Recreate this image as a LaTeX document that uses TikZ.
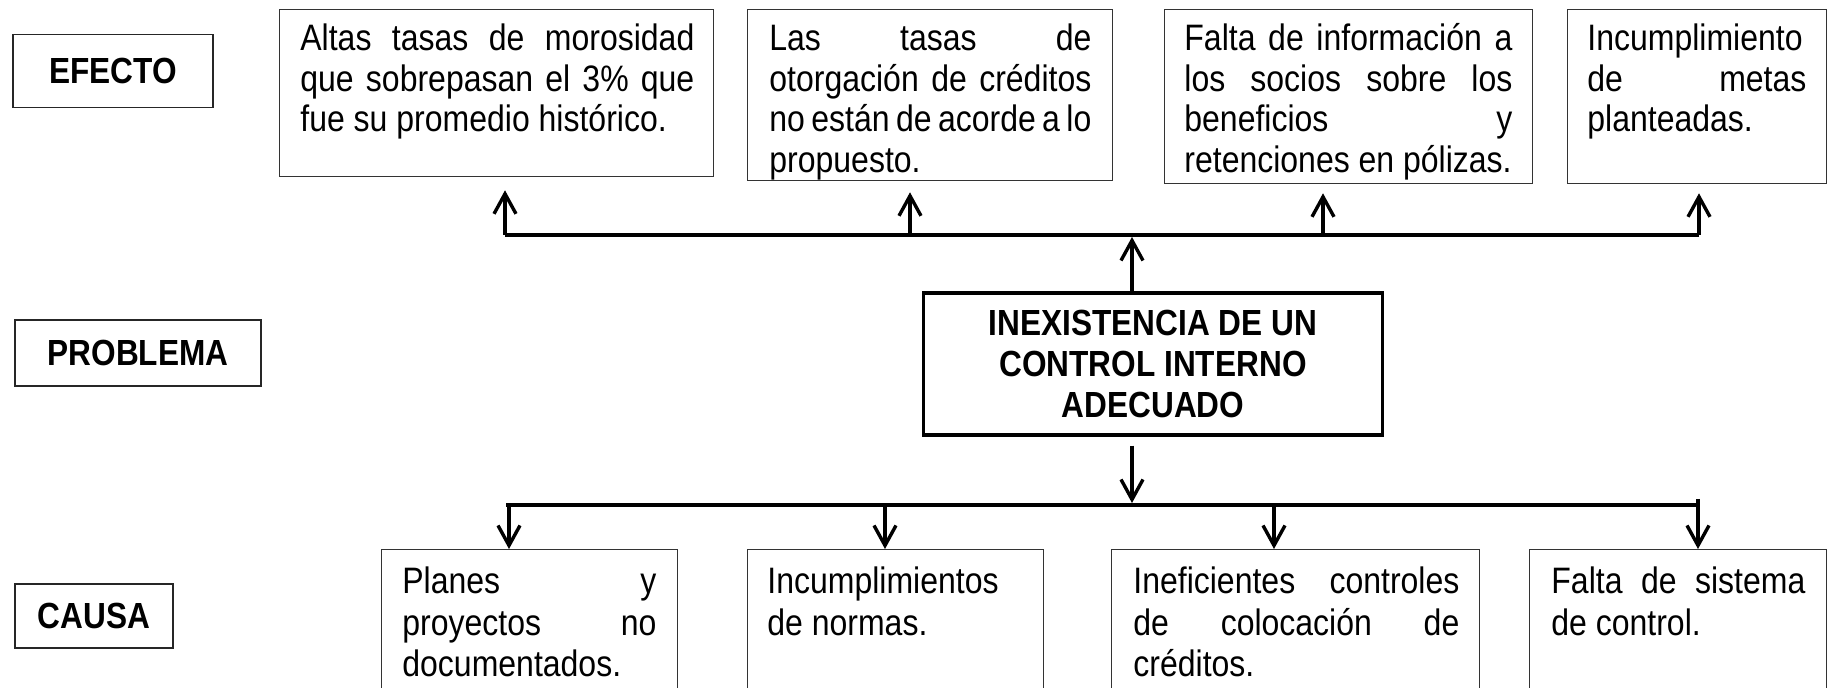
\documentclass[tikz,border=0pt]{standalone}
\usepackage{fontspec}
\setmainfont{Liberation Sans}
\usetikzlibrary{arrows.meta}
\newcommand\jline[1]{\makebox[\linewidth][s]{#1}\\}
\newcommand\vstr[1]{\scalebox{1}[1.15]{#1}}
\tikzset{
  box/.style={draw=black!80, line width=0.65pt, anchor=north west, inner sep=0pt},
  body/.style={anchor=base west, inner sep=0pt, font=\fontsize{16}{17.6}\selectfont},
  cbody/.style={anchor=base west, inner sep=0pt, font=\fontsize{16}{18}\selectfont},
  lab/.style={draw=black!85, line width=0.8pt, inner sep=0pt, font=\bfseries\fontsize{15.8}{16}\selectfont},
  bus/.style={line width=2.2pt},
  arr/.style={line width=1.7pt, -{Straight Barb[length=10pt,width=11pt,line width=1.7pt]}},
}
\begin{document}
\begin{tikzpicture}[x=0.5pt,y=-0.5pt]
\useasboundingbox (0,0) rectangle (1833,688);
\clip (0,0) rectangle (1833,688);

% row labels
\node[lab, minimum width=100pt, minimum height=36.5pt] (lefecto) at (113,71) {\vstr{EFECTO}};
\node[lab, line width=1.4pt, minimum width=123pt, minimum height=33pt] (lproblema) at (138,353) {\vstr{PROBLEMA}};
\node[lab, minimum width=79pt, minimum height=32pt] (lcausa) at (94,616) {\vstr{CAUSA}};

% effect boxes
\node[box, minimum width=217pt, minimum height=83.5pt] (e1) at (279,9) {};
\node[box, minimum width=182.5pt, minimum height=85.5pt] (e2) at (747,9) {};
\node[box, minimum width=184pt, minimum height=87pt] (e3) at (1164,9) {};
\node[box, minimum width=129.5pt, minimum height=87pt] (e4) at (1567,9) {};

\node[body] (e1t) at (300,51) {\vstr{\parbox[t]{197pt}{\strut\jline{Altas tasas de morosidad}\jline{que sobrepasan el 3\% que}fue su promedio histórico.}}};
\node[body] (e2t) at (769,51) {\vstr{\parbox[t]{161pt}{\strut\jline{Las tasas de}\jline{otorgación de créditos}\jline{no están de acorde a lo}propuesto.}}};
\node[body] (e3t) at (1184,51) {\vstr{\parbox[t]{164pt}{\strut\jline{Falta de información a}\jline{los socios sobre los}\jline{beneficios y}retenciones en pólizas.}}};
\node[body] (e4t) at (1587,51) {\vstr{\parbox[t]{109.5pt}{\strut Incumplimiento\\\jline{de metas}planteadas.}}};

% problem
\node[draw, line width=1.6pt, minimum width=229.5pt, minimum height=71pt, inner sep=0pt,
      font=\bfseries\fontsize{15.8}{18}\selectfont] (p) at (1153,364)
  {\vstr{\parbox{220pt}{\centering INEXISTENCIA DE UN\\CONTROL INTERNO\\ADECUADO}}};

% cause boxes
\node[box, minimum width=148pt, minimum height=80pt] (c1) at (381,549) {};
\node[box, minimum width=148pt, minimum height=80pt] (c2) at (747,549) {};
\node[box, minimum width=184pt, minimum height=80pt] (c3) at (1111,549) {};
\node[box, minimum width=148.5pt, minimum height=80pt] (c4) at (1529,549) {};

\node[cbody] (c1t) at (402,594) {\vstr{\parbox[t]{127pt}{\strut\jline{Planes y}\jline{proyectos no}documentados.}}};
\node[cbody] (c2t) at (767,594) {\vstr{\parbox[t]{127pt}{\strut Incumplimientos\\de normas.}}};
\node[cbody] (c3t) at (1133,594) {\vstr{\parbox[t]{163pt}{\strut\jline{Ineficientes controles}\jline{de colocación de}créditos.}}};
\node[cbody] (c4t) at (1551,594) {\vstr{\parbox[t]{127pt}{\strut\jline{Falta de sistema}de control.}}};

% top bus and arrows
\coordinate (t1) at (505,235);
\coordinate (t2) at (910,235);
\coordinate (t3) at (1323,235);
\coordinate (t4) at (1699,235);
\coordinate (tc) at (1132,235);
\draw[bus] (t1) -- (t4);
\draw[arr, shorten >=6.5pt] (t1) -- (t1 |- e1.south);
\draw[arr, shorten >=5.5pt] (t2) -- (t2 |- e2.south);
\draw[arr, shorten >=4.5pt] (t3) -- (t3 |- e3.south);
\draw[arr, shorten >=4.5pt] (t4) -- (t4 |- e4.south);
\draw[arr, shorten >=1pt] (tc |- p.north) -- (tc);

% bottom bus and arrows
\coordinate (bc) at (1132,505);
\coordinate (b1) at (509,505);
\coordinate (b2) at (885,505);
\coordinate (b3) at (1274,505);
\coordinate (b4) at (1698,505);
\coordinate (b0) at (506,505);
\draw[arr, shorten <=4.5pt, shorten >=1pt] (bc |- p.south) -- (bc);
\draw[bus] (b0) -- (b4);
\draw[arr] (b1) -- (b1 |- c1.north);
\draw[arr] (b2) -- (b2 |- c2.north);
\draw[arr] (b3) -- (b3 |- c3.north);
\draw[arr] ([yshift=3pt]b4) -- (b4 |- c4.north);
\end{tikzpicture}
\end{document}
